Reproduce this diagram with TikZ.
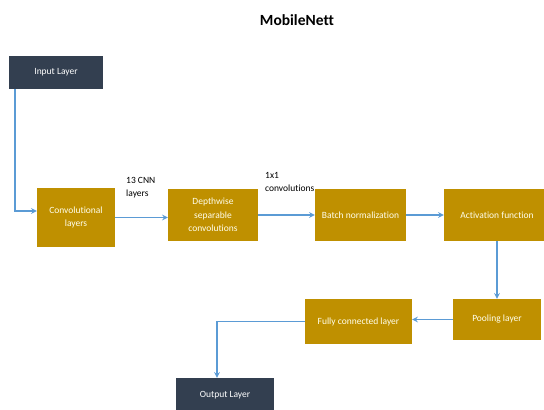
\documentclass[tikz,border=0pt]{standalone}
\usepackage{fontspec}
\setmainfont{Carlito}[Ligatures=CommonOff]
\usepackage{tikz}

\definecolor{navy}{HTML}{333F50}
\definecolor{gold}{HTML}{BF9000}
\definecolor{linkblue}{HTML}{5B9BD5}

\begin{document}
\begin{tikzpicture}[x=1pt, y=-1pt,
  layer/.style={fill=navy, text=white, font=\fontsize{9.5}{13.5}\selectfont, align=center, inner sep=1pt},
  block/.style={fill=gold, text=white!92!yellow, font=\fontsize{9.5}{13.5}\selectfont, align=center, inner sep=1pt},
  link/.style={draw=linkblue, line width=1.5pt, ->, >=stealth},
  lbl/.style={font=\fontsize{9.5}{13.5}\selectfont, align=left, anchor=north west, inner sep=0pt}]
\useasboundingbox (0,0) rectangle (544,410);
\node[font=\fontsize{15.5}{18}\selectfont\bfseries] (title) at (297,20) {MobileNett};
\node[layer, minimum width=94pt, minimum height=33pt] (input) at (56,72.5) {Input Layer};
\node[block, minimum width=78pt, minimum height=59pt] (conv) at (76,217.5) {Convolutional\\layers};
\node[block, minimum width=90pt, minimum height=52pt] (depth) at (213,215) {Depthwise\\separable\\convolutions};
\node[block, minimum width=91pt, minimum height=52pt] (batch) at (360.5,215) {Batch normalization};
\node[block, minimum width=106pt, minimum height=52pt] (act) at (497,215) {Activation function};
\node[block, minimum width=88pt, minimum height=41pt] (pool) at (497,319.5) {Pooling layer};
\node[block, minimum width=107pt, minimum height=45pt] (fc) at (358.5,321.5) {Fully connected layer};
\node[layer, minimum width=98pt, minimum height=34pt] (out) at (225,395) {Output Layer};
%labels over the arrows
\node[lbl] (cnnlbl) at (126,177) {13 CNN\\layers};
\node[lbl] (onelbl) at (265,172) {1x1\\convolutions};
%arrows
\draw[link] ([xshift=6pt]input.south west) |- ([yshift=6.5pt]conv.west);
\draw[link] (conv.east) -- (conv.east -| depth.west);
\draw[link] (depth.east) -- (batch.west);
\draw[link] (batch.east) -- (act.west);
\draw[link] (act.south) -- (pool.north);
\draw[link] (pool.west) -- (pool.west -| fc.east);
\draw[link] (fc.west) -| ([xshift=-8pt]out.north);
\end{tikzpicture}
\end{document}
